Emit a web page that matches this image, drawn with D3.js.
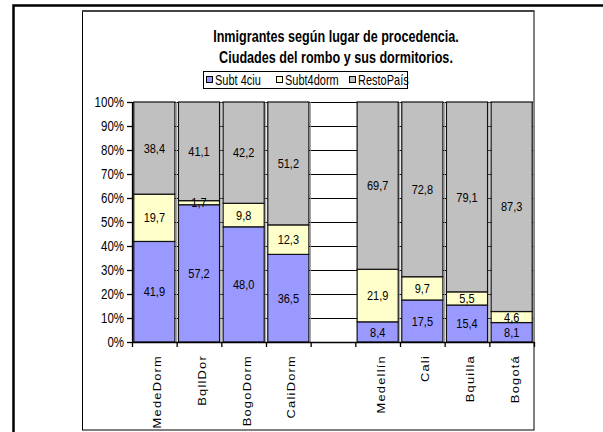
<!DOCTYPE html>
<html>
<head>
<meta charset="utf-8">
<script src="https://cdn.jsdelivr.net/npm/d3@7"></script>
<style>
  body { margin: 0; background: #fff; }
  text { font-family: "Liberation Sans", Arial, sans-serif; fill: #000; }
</style>
</head>
<body>
<div id="chart"></div>
<script>
const categories = ['MedeDorm', 'BqllDor', 'BogoDorm', 'CaliDorm', '', 'Medellín', 'Cali', 'Bquilla', 'Bogotá'];
const subt4ciu = [41.9, 57.2, 48.0, 36.5, null, 8.4, 17.5, 15.4, 8.1];
const subt4dorm = [19.7, 1.7, 9.8, 12.3, null, 21.9, 9.7, 5.5, 4.6];
const restoPais = [38.4, 41.1, 42.2, 51.2, null, 69.7, 72.8, 79.1, 87.3];
const seriesNames = ['Subt 4ciu', 'Subt4dorm', 'RestoPaís'];
const seriesColors = ['#9999ff', '#ffffcc', '#c0c0c0'];
const yTicks = [0, 0.1, 0.2, 0.3, 0.4, 0.5, 0.6, 0.7, 0.8, 0.9, 1];
const titleLines = ['Inmigrantes según lugar de procedencia.', 'Ciudades del rombo y sus dormitorios.'];

const W = 603, H = 432;
const stretch = 1.32; // the reference text is drawn taller than wide

const svg = d3.select('#chart').append('svg')
  .attr('width', W)
  .attr('height', H);

// outer page frame and chart frame
svg.append('rect')
  .attr('x', 13.5).attr('y', 5.5)
  .attr('width', 640).attr('height', 460)
  .attr('fill', 'none').attr('stroke', '#000').attr('stroke-width', 2.5);
svg.append('rect')
  .attr('x', 82.5).attr('y', 11.5)
  .attr('width', 451.5).attr('height', 418.5)
  .attr('fill', '#fff').attr('stroke', '#000').attr('stroke-width', 1);
svg.append('line')
  .attr('x1', 82).attr('x2', 534.5).attr('y1', 11).attr('y2', 11)
  .attr('stroke', '#444').attr('stroke-width', 2);

const rows = categories.map((c, i) => ({
  name: c,
  'Subt 4ciu': subt4ciu[i] || 0,
  'Subt4dorm': subt4dorm[i] || 0,
  'RestoPaís': restoPais[i] || 0,
  empty: subt4ciu[i] == null
}));

const x = d3.scaleBand()
  .domain(d3.range(categories.length))
  .range([132, 534]);
const y = d3.scaleLinear()
  .domain([0, 1])
  .range([342, 102]);
const color = d3.scaleOrdinal(seriesNames, seriesColors);

// gridlines
svg.append('g')
  .selectAll('line')
  .data(yTicks)
  .join('line')
  .attr('x1', 132).attr('x2', 534)
  .attr('y1', (d) => Math.round(y(d)) + 0.5)
  .attr('y2', (d) => Math.round(y(d)) + 0.5)
  .attr('stroke', '#000').attr('stroke-width', 1);

const stacked = d3.stack().keys(seriesNames)(rows);
const barW = x.bandwidth() * 0.92;
const off = (x.bandwidth() - barW) / 2;

const layer = svg.append('g')
  .selectAll('g')
  .data(stacked)
  .join('g')
  .attr('fill', (d) => color(d.key));

// light shadow on the right of each bar
layer.selectAll('line')
  .data((d) => d.map((s, i) => ({s, i})).filter((e) => !rows[e.i].empty))
  .join('line')
  .attr('x1', (e) => x(e.i) + off + barW + 1.5)
  .attr('x2', (e) => x(e.i) + off + barW + 1.5)
  .attr('y1', (e) => y(e.s[1] / 100))
  .attr('y2', (e) => y(e.s[0] / 100))
  .attr('stroke', '#999').attr('stroke-width', 1);

layer.selectAll('rect')
  .data((d) => d.map((s, i) => ({s, i})).filter((e) => !rows[e.i].empty))
  .join('rect')
  .attr('x', (e) => x(e.i) + off)
  .attr('width', barW)
  .attr('y', (e) => y(e.s[1] / 100))
  .attr('height', (e) => y(e.s[0] / 100) - y(e.s[1] / 100))
  .attr('stroke', '#111').attr('stroke-width', 1.2);

// value labels
const fmt = (v) => v.toFixed(1).replace('.', ',');
svg.append('g')
  .selectAll('g')
  .data(stacked)
  .join('g')
  .selectAll('text')
  .data((d) => d.map((s, i) => ({s, i})).filter((e) => !rows[e.i].empty))
  .join('text')
  .attr('text-anchor', 'middle')
  .attr('font-size', 11)
  .attr('transform', (e) => `translate(${x(e.i) + x.bandwidth() / 2},${y((e.s[0] + e.s[1]) / 200)}) scale(1,1.18)`)
  .attr('dy', '0.36em')
  .text((e) => fmt(e.s[1] - e.s[0]));

// y axis
const yAxis = svg.append('g')
  .attr('transform', 'translate(132,0)')
  .call(d3.axisLeft(y).tickValues(yTicks).tickFormat(d3.format('.0%')).tickSize(5).tickSizeOuter(0).tickPadding(3));
yAxis.select('.domain').attr('stroke', '#000').attr('stroke-width', 1.3);
yAxis.selectAll('.tick line').attr('stroke', '#000').attr('stroke-width', 1.3);
yAxis.selectAll('.tick text')
  .attr('font-family', '"Liberation Sans", Arial, sans-serif')
  .attr('font-size', 11.5)
  .attr('fill', '#000')
  .attr('transform', `scale(1,${stretch})`);

// x axis line and ticks at category boundaries
svg.append('line')
  .attr('x1', 132).attr('x2', 534).attr('y1', 342.5).attr('y2', 342.5)
  .attr('stroke', '#000').attr('stroke-width', 1.3);
svg.append('g')
  .selectAll('line')
  .data(d3.range(categories.length + 1))
  .join('line')
  .attr('x1', (i) => (i < categories.length ? x(i) : x.range()[1]) + 0.5)
  .attr('x2', (i) => (i < categories.length ? x(i) : x.range()[1]) + 0.5)
  .attr('y1', 342).attr('y2', 347)
  .attr('stroke', '#000').attr('stroke-width', 1.3);

svg.append('g')
  .selectAll('text')
  .data(categories)
  .join('text')
  .attr('transform', (d, i) => `translate(${x(i) + x.bandwidth() / 2 + 3},355) rotate(-90) scale(1.12,1)`)
  .attr('text-anchor', 'end')
  .attr('dy', '0.36em')
  .attr('font-size', 11.5)
  .attr('letter-spacing', 1.1)
  .text((d) => d);

// title
svg.append('g')
  .selectAll('text')
  .data(titleLines)
  .join('text')
  .attr('transform', (d, i) => `translate(336,${42 + i * 21}) scale(1,1.32)`)
  .attr('text-anchor', 'middle')
  .attr('font-size', 12.6)
  .attr('font-weight', 'bold')
  .text((d) => d);

// legend
const legend = svg.append('g').attr('transform', 'translate(203,71)');
legend.append('rect')
  .attr('x', 0.5).attr('y', 0.5)
  .attr('width', 204).attr('height', 17)
  .attr('fill', '#fff').attr('stroke', '#000').attr('stroke-width', 1);
const legendX = [3, 73, 146];
const item = legend.selectAll('.item')
  .data(seriesNames)
  .join('g')
  .attr('class', 'item')
  .attr('transform', (d, i) => `translate(${legendX[i]},0)`);
item.append('rect')
  .attr('x', 0.5).attr('y', 5.5)
  .attr('width', 6).attr('height', 6)
  .attr('fill', (d) => color(d))
  .attr('stroke', '#000').attr('stroke-width', 1);
item.append('text')
  .attr('transform', `translate(9,9) scale(1,${stretch})`)
  .attr('dy', '0.35em')
  .attr('font-size', 11)
  .text((d) => d);
</script>
</body>
</html>
